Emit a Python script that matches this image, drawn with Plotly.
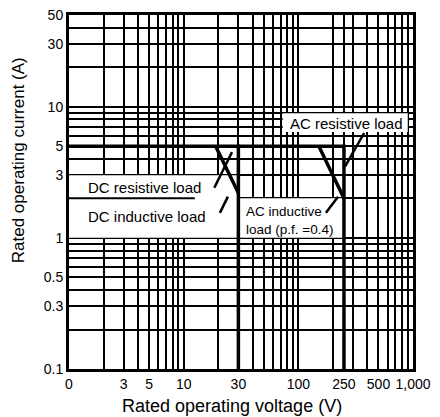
import math
import plotly.graph_objects as go

# ---- data ----
x_tick_vals = [1, 3, 5, 10, 30, 100, 250, 500, 1000]
x_tick_text = ["0", "3", "5", "10", "30", "100", "250", "500", "1,000"]
y_tick_vals = [0.1, 0.3, 0.5, 1, 3, 5, 10, 30, 50]
y_tick_text = ["0.1", "0.3", "0.5", "1", "3", "5", "10", "30", "50"]

x_grid = [m * d for d in (1, 10, 100) for m in range(1, 10)] + [1000]
y_grid = [m * d for d in (0.1, 1) for m in range(1, 10)] + [10, 20, 30, 40, 50]

dc_res_v = [1, 30, 30]
dc_res_i = [5, 5, 0.1]
ac_res_v = [30, 250, 250]
ac_res_i = [5, 5, 0.1]
dc_ind_v = [19, 30]
dc_ind_i = [5, 2.2]
ac_ind_v = [151, 250]
ac_ind_i = [5, 2.0]

lead_dc_res_v = [18.5, 26.4]
lead_dc_res_i = [2.41, 4.5]
lead_dc_ind_v = [20.7, 24.3]
lead_dc_ind_i = [1.55, 2.06]
lead_ac_res_v = [375, 256]
lead_ac_res_i = [6.3, 3.5]
lead_ac_ind_v = [174, 222]
lead_ac_ind_i = [1.55, 2.06]

label_text = ["DC resistive load", "DC inductive load", "AC resistive load",
              "AC inductive", "load (p.f. =0.4)"]
label_v = [1.42, 1.42, 82, 33.6, 33.6]
label_i = [2.41, 1.45, 7.4, 1.58, 1.15]
label_size = [15, 15, 15, 13.5, 13.5]

FONT = "Liberation Sans, Arial, sans-serif"

fig = go.Figure()

def add_line(xs, ys, w):
    fig.add_trace(go.Scatter(x=xs, y=ys, mode="lines",
                             line=dict(color="black", width=w),
                             showlegend=False, hoverinfo="skip"))

for xs, ys in [(dc_res_v, dc_res_i), (ac_res_v, ac_res_i),
               (dc_ind_v, dc_ind_i), (ac_ind_v, ac_ind_i)]:
    add_line(xs, ys, 3.5)
for xs, ys in [(lead_dc_res_v, lead_dc_res_i), (lead_dc_ind_v, lead_dc_ind_i),
               (lead_ac_res_v, lead_ac_res_i), (lead_ac_ind_v, lead_ac_ind_i)]:
    add_line(xs, ys, 2.5)

# white label boxes hiding the grid
boxes = [(1, 30, 1, 3), (30, 250, 1, 2), (73, 900, 6.4, 8.9)]
for x0, x1, y0, y1 in boxes:
    fig.add_shape(type="rect", xref="x", yref="y", x0=x0, x1=x1, y0=y0, y1=y1,
                  fillcolor="white", line=dict(width=0), layer="between")
# partial 2 A grid line between the two DC labels
fig.add_shape(type="line", xref="x", yref="y", x0=1, x1=12.5, y0=2, y1=2,
              line=dict(color="black", width=2), layer="between")

for txt, x, y, s in zip(label_text, label_v, label_i, label_size):
    fig.add_annotation(x=math.log10(x), y=math.log10(y), xref="x", yref="y",
                       text=txt, showarrow=False,
                       xanchor="left", yanchor="middle",
                       font=dict(family=FONT, size=s, color="black"))

# axis titles
fig.add_annotation(x=-0.148, y=0.59, xref="paper", yref="paper",
                   text="Rated operating current (A)", textangle=-90,
                   showarrow=False, xanchor="center", yanchor="middle",
                   font=dict(family=FONT, size=17, color="black"))
fig.add_annotation(x=0.475, y=-0.1045, xref="paper", yref="paper",
                   text="Rated operating voltage (V)",
                   showarrow=False, xanchor="center", yanchor="middle",
                   font=dict(family=FONT, size=18, color="black"))

# page body has an 8px margin: size the figure so the plot lands in place
fig.update_layout(
    width=432, height=409,
    margin=dict(l=61, r=27, t=7, b=48),
    paper_bgcolor="white", plot_bgcolor="white",
    font=dict(family=FONT, size=14, color="black"),
    showlegend=False,
)
fig.update_xaxes(
    type="log", range=[-1e-6, 3 + 1e-6],
    tickvals=x_tick_vals, ticktext=x_tick_text, ticks="",
    ticklabeloverflow="allow",
    showgrid=True, gridcolor="black", gridwidth=2,
    minor=dict(tickvals=x_grid, showgrid=True, gridcolor="black", gridwidth=2, ticks=""),
    showline=True, linecolor="black", linewidth=3, mirror=True,
    zeroline=False, automargin=False,
    tickfont=dict(family=FONT, size=14, color="black"),
)
fig.update_yaxes(
    type="log", range=[-1 - 1e-6, math.log10(50) + 1e-6],
    tickvals=y_tick_vals, ticktext=y_tick_text, ticks="",
    ticklabeloverflow="allow",
    showgrid=True, gridcolor="black", gridwidth=2,
    minor=dict(tickvals=y_grid, showgrid=True, gridcolor="black", gridwidth=2, ticks=""),
    showline=True, linecolor="black", linewidth=3, mirror=True,
    zeroline=False, automargin=False,
    tickfont=dict(family=FONT, size=14, color="black"),
)

fig.write_html("out.html")
